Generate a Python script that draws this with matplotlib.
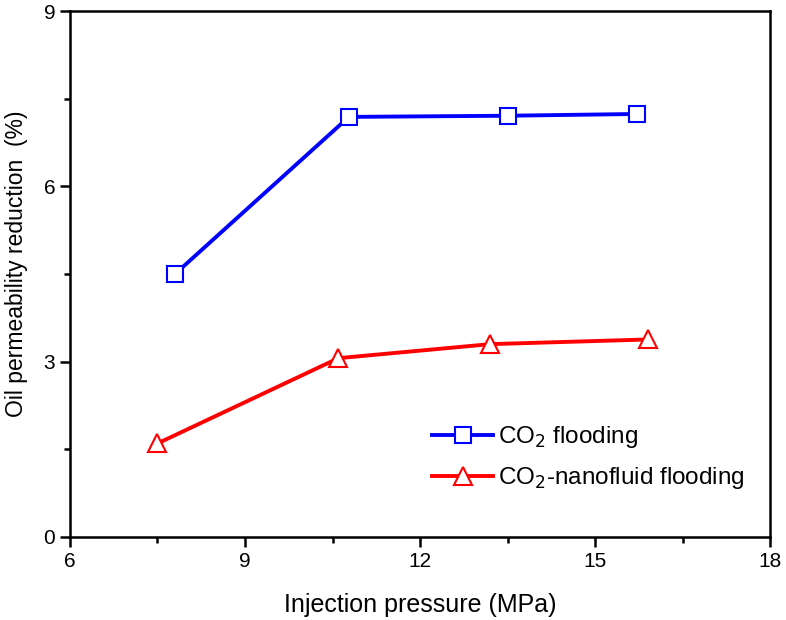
import numpy as np
import matplotlib.pyplot as plt
from matplotlib.ticker import MultipleLocator

# data
co2_x = [7.8, 10.78, 13.5, 15.72]
co2_y = [4.50, 7.19, 7.21, 7.24]
nano_x = [7.5, 10.6, 13.2, 15.9]
nano_y = [1.60, 3.06, 3.30, 3.38]

plt.rcParams['font.family'] = ['Liberation Sans', 'DejaVu Sans']

fig = plt.figure(figsize=(7.86, 6.2), dpi=100)
ax = fig.add_axes([0.089, 0.134, 0.891, 0.848])

ax.plot(co2_x, co2_y, color='blue', lw=2.8, marker='s', ms=11,
        mfc='white', mec='blue', mew=1.5, label=r'CO$_2$ flooding')
ax.plot(nano_x, nano_y, color='red', lw=2.8, marker='^', ms=13,
        mfc='white', mec='red', mew=1.5, label=r'CO$_2$-nanofluid flooding')

ax.set_xlim(6, 18)
ax.set_ylim(0, 9)
ax.xaxis.set_major_locator(MultipleLocator(3))
ax.xaxis.set_minor_locator(MultipleLocator(1.5))
ax.yaxis.set_major_locator(MultipleLocator(3))
ax.yaxis.set_minor_locator(MultipleLocator(1.5))
ax.tick_params(which='major', direction='out', length=7, width=1.8, labelsize=15)
ax.tick_params(which='minor', direction='out', length=4, width=1.8)
for s in ax.spines.values():
    s.set_linewidth(1.8)

ax.set_xlabel('Injection pressure (MPa)', fontsize=18, labelpad=16)
ax.set_ylabel('Oil permeability reduction  (%)', fontsize=16.5)
ax.yaxis.set_label_coords(-0.06, 0.52)

ax.legend(loc='upper left', bbox_to_anchor=(0.5, 0.237), frameon=False,
          borderpad=0, fontsize=17.5, handlelength=2.5, handletextpad=0.2,
          labelspacing=0.6)

fig.savefig('out.png', dpi=100)
